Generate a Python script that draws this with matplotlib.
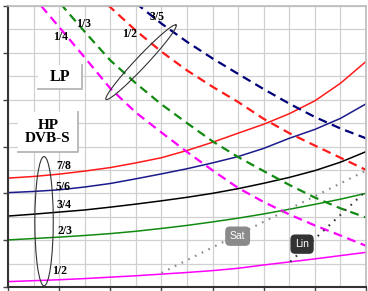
import numpy as np
import matplotlib.pyplot as plt
from matplotlib.patches import Ellipse, Rectangle

# HP / DVB-S curves (solid)
hp_x = [0, 1, 2, 3, 4, 5, 6, 7, 8, 9, 10, 11, 12, 13, 14]
hp_7_8 = [4.65, 4.72, 4.82, 4.95, 5.10, 5.30, 5.52, 5.83, 6.18, 6.57, 6.95, 7.40, 7.95, 8.70, 9.63]
hp_5_6 = [4.03, 4.08, 4.15, 4.27, 4.42, 4.62, 4.83, 5.05, 5.30, 5.57, 5.92, 6.35, 6.73, 7.20, 7.82]
hp_3_4 = [3.03, 3.11, 3.20, 3.29, 3.41, 3.54, 3.68, 3.83, 4.00, 4.20, 4.43, 4.68, 4.97, 5.33, 5.78]
hp_2_3 = [2.01, 2.07, 2.13, 2.20, 2.28, 2.38, 2.50, 2.63, 2.78, 2.94, 3.12, 3.32, 3.53, 3.75, 4.00]
hp_1_2 = [0.23, 0.27, 0.31, 0.36, 0.42, 0.48, 0.55, 0.62, 0.70, 0.80, 0.94, 1.07, 1.20, 1.34, 1.48]

# LP curves (dashed)
lp_1_4_x = [1.3, 2, 3, 4, 5, 6, 7, 8, 9, 10, 11, 12, 13, 14]
lp_1_4 = [12.0, 11.1, 9.8, 8.48, 7.45, 6.6, 5.77, 4.98, 4.23, 3.63, 3.1, 2.63, 2.2, 1.76]
lp_1_3_x = [2.05, 3, 4, 5, 6, 7, 8, 9, 10, 11, 12, 13, 14]
lp_1_3 = [12.1, 10.9, 9.68, 8.7, 7.8, 7.0, 6.22, 5.55, 4.95, 4.36, 3.82, 3.36, 2.97]
lp_1_2_x = [3.9, 5, 6, 7, 8, 9, 10, 11, 12, 13, 14]
lp_1_2 = [12.05, 10.95, 10.05, 9.25, 8.55, 7.9, 7.18, 6.57, 6.04, 5.52, 5.0]
lp_3_5_x = [5.0, 6, 7, 8, 9, 10, 11, 12, 13, 14]
lp_3_5 = [12.12, 11.25, 10.47, 9.76, 9.1, 8.45, 7.83, 7.26, 6.77, 6.35]

# Sat / Lin limits (dotted)
sat_x = [6.0, 14.0]
sat_y = [0.6, 4.97]
lin_x = [11.04, 14.0]
lin_y = [1.08, 4.1]

RED = '#ff1a1a'
BLUE = '#1a1a8c'
NAVY = '#00007a'
GREEN = '#118a11'
MAG = '#ff00ff'

fig = plt.figure(figsize=(3.68, 2.91), dpi=100)
ax = fig.add_axes([8 / 368, 4 / 291, 358 / 368, 281 / 291])
ax.set_xlim(0, 14)
ax.set_ylim(0, 12)

ax.set_xticks(np.arange(0, 15, 2))
ax.set_yticks(np.arange(0, 13, 2))
ax.set_xticks(np.arange(0, 15, 1), minor=True)
ax.set_yticks(np.arange(0, 13, 1), minor=True)
ax.grid(True, which='both', color='#d0d0d0', lw=0.9)
ax.set_axisbelow(True)
ax.tick_params(which='major', direction='out', length=3.5, width=1, color='#444444',
               labelbottom=False, labelleft=False)
ax.tick_params(which='minor', length=0)
for s in ['top', 'right']:
    ax.spines[s].set_color('#bbbbbb')
    ax.spines[s].set_linewidth(1.2)
for s in ['left', 'bottom']:
    ax.spines[s].set_color('#333333')
    ax.spines[s].set_linewidth(1.5)

lw_s = 1.1
ax.plot(hp_x, hp_7_8, color=RED, lw=lw_s)
ax.plot(hp_x, hp_5_6, color=BLUE, lw=lw_s)
ax.plot(hp_x, hp_3_4, color='black', lw=lw_s)
ax.plot(hp_x, hp_2_3, color=GREEN, lw=lw_s)
ax.plot(hp_x, hp_1_2, color=MAG, lw=lw_s)

lw_d = 1.6
dash = (4, 2.5)
ax.plot(lp_1_4_x, lp_1_4, color=MAG, lw=lw_d, dashes=dash)
ax.plot(lp_1_3_x, lp_1_3, color=GREEN, lw=lw_d, dashes=dash)
ax.plot(lp_1_2_x, lp_1_2, color=RED, lw=lw_d, dashes=dash)
ax.plot(lp_3_5_x, lp_3_5, color=NAVY, lw=lw_d, dashes=dash)

ax.plot(sat_x, sat_y, color='#888888', lw=1.5, dashes=(0.8, 2.8))
ax.plot(lin_x, lin_y, color='#333333', lw=1.5, dashes=(0.8, 2.8))

# boxes
ax.text(8.98, 2.17, 'Sat', color='white', fontsize=7.5, family='Liberation Sans',
        ha='center', va='center',
        bbox=dict(boxstyle='round,pad=0.45', fc='#8a8a8a', ec='none'))
ax.text(11.5, 1.83, 'Lin', color='white', fontsize=7.5, family='Liberation Sans',
        ha='center', va='center',
        bbox=dict(boxstyle='round,pad=0.45', fc='#333333', ec='none'))

# LP box with shadow
ax.add_patch(Rectangle((1.17, 8.47), 1.72, 1.02, fc='white', ec='none', zorder=3))
ax.plot([1.17, 2.89, 2.89], [8.47, 8.47, 9.49], color='#b5b5b5', lw=1.3, zorder=3)
ax.text(2.03, 8.97, 'LP', fontsize=11.5, family='Liberation Serif', weight='bold',
        ha='center', va='center', zorder=4)

# HP / DVB-S box with shadow
ax.add_patch(Rectangle((0.39, 5.77), 2.34, 1.71, fc='white', ec='none', zorder=3))
ax.plot([0.39, 2.73, 2.73], [5.77, 5.77, 7.48], color='#b5b5b5', lw=1.3, zorder=3)
ax.text(1.56, 6.62, 'HP\nDVB-S', fontsize=11, family='Liberation Serif', weight='bold',
        ha='center', va='center', linespacing=1.0, zorder=4)

# rate labels
lab = dict(fontsize=8.5, family='Liberation Serif', weight='bold', ha='center', va='center')
ax.text(5.84, 11.54, '3/5', **lab)
ax.text(4.77, 10.8, '1/2', **lab)
ax.text(2.97, 11.24, '1/3', **lab)
ax.text(2.07, 10.66, '1/4', **lab)
ax.text(2.19, 5.17, '7/8', **lab)
ax.text(2.15, 4.25, '5/6', **lab)
ax.text(2.19, 3.5, '3/4', **lab)
ax.text(2.23, 2.41, '2/3', **lab)
ax.text(2.03, 0.68, '1/2', **lab)

# ellipses
ax.add_patch(Ellipse((1.41, 2.81), 0.72, 5.52, fill=False, ec='#333333', lw=0.8, zorder=5))
cx, cy = 141.0, 62.2
ax_vec = np.array([35.0, -37.2])
mi_vec = np.array([37.2, 35.0]) / np.hypot(37.2, 35.0) * 5.5
t = np.linspace(0, 2 * np.pi, 200)
px = cx + ax_vec[0] * np.cos(t) + mi_vec[0] * np.sin(t)
py = cy + ax_vec[1] * np.cos(t) + mi_vec[1] * np.sin(t)
ax.plot((px - 8) / 25.57, (287 - py) / 23.42, color='#333333', lw=0.8, zorder=5)

fig.savefig('out.png', dpi=100)
